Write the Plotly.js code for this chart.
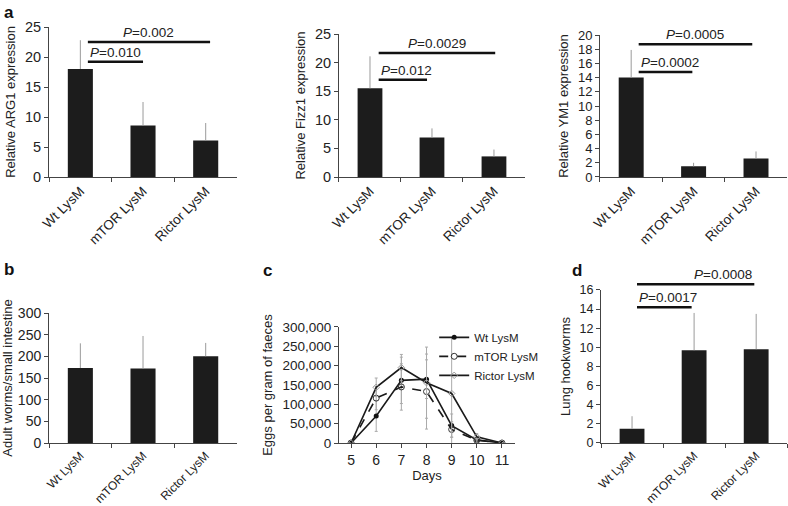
<!DOCTYPE html>
<html>
<head>
<meta charset="utf-8">
<script src="https://cdn.plot.ly/plotly-3.0.1.min.js"></script>
<style>
  html, body { margin: 0; padding: 0; background: #fff; }
  #plot { width: 788px; height: 506px; }
</style>
</head>
<body>
<div id="plot"></div>
<script>
// groups shared by the bar panels
var groups = ['Wt LysM', 'mTOR LysM', 'Rictor LysM'];

// panel a
var arg1 = [18.0, 8.6, 6.1];
var arg1Err = [4.8, 3.9, 2.9];
var fizz1 = [15.5, 6.9, 3.6];
var fizz1Err = [5.6, 1.6, 1.2];
var ym1 = [14.0, 1.5, 2.6];
var ym1Err = [3.9, 0.5, 1.0];

// panel b
var worms = [173, 172, 200];
var wormsErr = [57, 75, 31];

// panel c
var days = [5, 6, 7, 8, 9, 10, 11];
var eggsWt = [0, 70000, 162000, 165000, 45000, 8000, 0];
var eggsWtErr = [0, 40000, 60000, 50000, 30000, 5000, 0];
var eggsMtor = [0, 116000, 145000, 133000, 35000, 7000, 0];
var eggsMtorErr = [0, 30000, 60000, 97000, 20000, 5000, 0];
var eggsRictor = [0, 144000, 195000, 156000, 128000, 16000, 0];
var eggsRictorErr = [0, 24000, 34000, 92000, 145000, 8000, 0];

// panel d
var hook = [1.5, 9.7, 9.8];
var hookErr = [1.3, 3.9, 3.7];

// significance brackets: axis suffix, y max, from/to category, height, label, text alignment
var brackets = [
  ['', 25, 0.12, 1.0, 19.2, '0.010', 'left'],
  ['', 25, 0.12, 2.07, 22.5, '0.002', 'center'],
  ['2', 25, 0.14, 0.92, 17.0, '0.012', 'left'],
  ['2', 25, 0.14, 2.02, 21.7, '0.0029', 'center'],
  ['3', 20, 0.12, 0.98, 14.8, '0.0002', 'left'],
  ['3', 20, 0.12, 1.94, 18.7, '0.0005', 'center'],
  ['6', 16, 0.08, 0.96, 14.2, '0.0017', 'left'],
  ['6', 16, 0.08, 1.97, 16.6, '0.0008', 'right']
];

var barColor = '#1c1c1c';
var errColor = '#9a9a9a';
var axColor = '#444';

function bars(xa, ya, vals, errs) {
  return {
    type: 'bar', x: groups, y: vals, xaxis: xa, yaxis: ya,
    width: 0.4, showlegend: false,
    marker: {color: barColor, line: {width: 0}},
    error_y: {type: 'data', symmetric: false, array: errs,
              arrayminus: errs.map(function () { return 0; }),
              color: errColor, thickness: 1, width: 0}
  };
}

function eggLine(name, vals, errs, marker, dash) {
  return {
    type: 'scatter', mode: 'lines+markers', name: name,
    x: days, y: vals, xaxis: 'x5', yaxis: 'y5',
    line: {color: '#1a1a1a', width: 1.6, dash: dash},
    marker: marker,
    error_y: {type: 'data', array: errs, color: '#aaa', thickness: 1, width: 1.5}
  };
}

var data = [
  bars('x', 'y', arg1, arg1Err),
  bars('x2', 'y2', fizz1, fizz1Err),
  bars('x3', 'y3', ym1, ym1Err),
  bars('x4', 'y4', worms, wormsErr),
  eggLine('Wt LysM', eggsWt, eggsWtErr, {symbol: 'circle', size: 5, color: '#111'}, 'solid'),
  eggLine('mTOR LysM', eggsMtor, eggsMtorErr, {symbol: 'circle-open', size: 6, color: '#333', line: {width: 1}}, 'dash'),
  eggLine('Rictor LysM', eggsRictor, eggsRictorErr, {symbol: 'diamond-open', size: 5, color: '#999', line: {width: 1}}, 'solid'),
  bars('x6', 'y6', hook, hookErr)
];

var font = {family: 'Liberation Sans, Arial, sans-serif', size: 12, color: '#222'};

function catAxis(dom, anchor, fs) {
  return {
    domain: dom, anchor: anchor, type: 'category', range: [-0.5, 2.5],
    showline: true, linecolor: axColor, linewidth: 1,
    ticks: 'outside', tickson: 'boundaries', ticklen: 4, tickcolor: axColor,
    tickangle: -45, tickfont: {size: fs}, showgrid: false, zeroline: false, fixedrange: true
  };
}

function valAxis(dom, anchor, max, step, title, fs) {
  return {
    domain: dom, anchor: anchor, range: [0, max], dtick: step,
    showline: true, linecolor: axColor, linewidth: 1,
    ticks: 'outside', ticklen: 4, tickcolor: axColor,
    showgrid: false, zeroline: false, tickfont: {size: fs},
    title: {text: title, font: {size: 13}, standoff: 6}
  };
}

var shapes = [];
var annotations = [];
brackets.forEach(function (b) {
  var xr = 'x' + b[0] + ' domain', yr = 'y' + b[0] + ' domain';
  var fx = function (c) { return (c + 0.5) / 3; };
  var fy = b[4] / b[1];
  shapes.push({type: 'line', xref: xr, yref: yr, x0: fx(b[2]), x1: fx(b[3]),
               y0: fy, y1: fy, line: {color: '#111', width: 2.5}});
  var tx = b[6] === 'left' ? fx(b[2]) : (b[6] === 'right' ? fx(b[3]) : (fx(b[2]) + fx(b[3])) / 2);
  annotations.push({xref: xr, yref: yr, x: tx, y: fy, xanchor: b[6], yanchor: 'bottom',
                    text: '<i>P</i>=' + b[5], showarrow: false, font: {size: 13.5, color: '#222'}});
});

[['a', 0.003, 0.976], ['b', 0.003, 0.468], ['c', 0.331, 0.466], ['d', 0.723, 0.466]].forEach(function (l) {
  annotations.push({xref: 'paper', yref: 'paper', x: l[1], y: l[2], xanchor: 'left', yanchor: 'middle',
                    text: '<b>' + l[0] + '</b>', showarrow: false, font: {size: 17, color: '#111'}});
});

var layout = {
  width: 788, height: 506,
  margin: {l: 0, r: 0, t: 0, b: 0},
  paper_bgcolor: '#fff', plot_bgcolor: '#fff',
  font: font,
  xaxis: catAxis([0.0622, 0.3008], 'y', 13.5),
  yaxis: valAxis([0.6502, 0.9466], 'x', 25, 5, 'Relative ARG1 expression', 14.5),
  xaxis2: catAxis([0.4302, 0.6662], 'y2', 13.5),
  yaxis2: valAxis([0.6502, 0.9328], 'x2', 25, 5, 'Relative Fizz1 expression', 14.5),
  xaxis3: catAxis([0.7614, 0.999], 'y3', 13.5),
  yaxis3: valAxis([0.6502, 0.9308], 'x3', 20, 2, 'Relative YM1 expression', 13),
  xaxis4: catAxis([0.0622, 0.3008], 'y4', 12),
  yaxis4: valAxis([0.1245, 0.3814], 'x4', 300, 50, 'Adult worms/small intestine', 14),
  xaxis5: {
    domain: [0.4302, 0.6536], anchor: 'y5', range: [4.52, 11.52], dtick: 1,
    showline: true, linecolor: axColor, ticks: 'outside', ticklen: 4, tickcolor: axColor,
    showgrid: false, zeroline: false, tickfont: {size: 14},
    title: {text: 'Days', font: {size: 13}, standoff: 4}
  },
  yaxis5: Object.assign(valAxis([0.1245, 0.3538], 'x5', 300000, 50000, 'Eggs per gram of faeces', 13.5),
                        {tickformat: ','}),
  xaxis6: catAxis([0.7627, 0.999], 'y6', 12),
  yaxis6: valAxis([0.1245, 0.4269], 'x6', 16, 2, 'Lung hookworms', 12.5),
  legend: {x: 0.551, y: 0.362, xanchor: 'left', yanchor: 'top', bgcolor: 'rgba(0,0,0,0)',
           font: {size: 11.5}, tracegroupgap: 0},
  showlegend: true,
  shapes: shapes,
  annotations: annotations
};

Plotly.newPlot('plot', data, layout, {staticPlot: true});
</script>
</body>
</html>
